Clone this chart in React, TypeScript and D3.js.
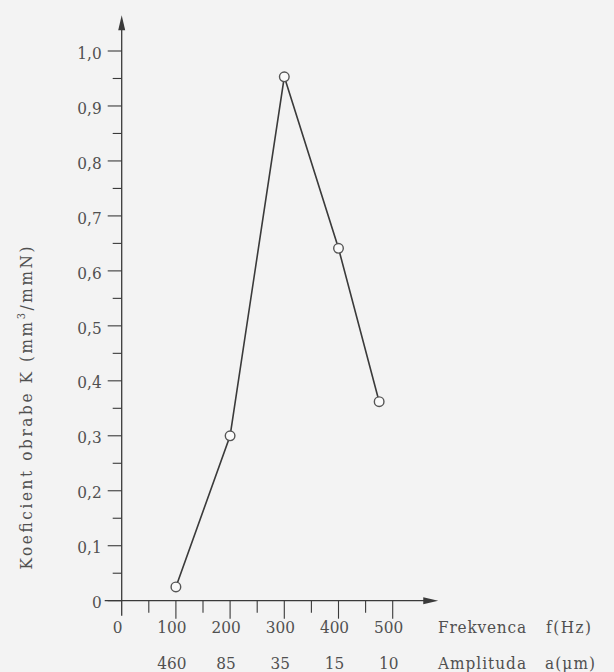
import React from "react";
import * as d3 from "d3";

const width = 614;
const height = 672;

// measured data
const frequency = [100, 200, 300, 400, 475]; // Hz
const coefK = [0.025, 0.3, 0.953, 0.641, 0.362]; // mm3/mmN

const xTickValues = [0, 100, 200, 300, 400, 500];
const amplitudeLabels = ["460", "85", "35", "15", "10"]; // under 100..500
const yTickValues = [0, 0.1, 0.2, 0.3, 0.4, 0.5, 0.6, 0.7, 0.8, 0.9, 1.0];

const ink = "#3a3a3a";
const textInk = "#505050";
const font = "DejaVu Serif Condensed, DejaVu Serif, serif";

const App = () => {
  const x = d3.scaleLinear().domain([0, 500]).range([121.7, 392.7]);
  const y = d3.scaleLinear().domain([0, 1]).range([600.7, 51]);

  const fmt = (v: number) => (v === 0 ? "0" : d3.format(".1f")(v).replace(".", ","));

  const xMinor = d3.range(50, 500, 100);
  const yMinor = d3.range(0.05, 1.0, 0.1);

  const line = d3
    .line<number>()
    .x((d, i) => x(frequency[i]))
    .y((d) => y(d));

  const x0 = x(0);
  const y0 = y(0);
  const xEnd = x(584);
  const yEnd = y(1.065);

  const label = { fontSize: 17, fill: textInk, fontFamily: font };

  return (
    <svg width={width} height={height} style={{ position: "absolute", left: 0, top: 0, background: "#f3f3f3" }}>
      <rect width={width} height={height} fill="#f3f3f3" />

      {/* axes */}
      <line x1={x0} x2={x0} y1={y0 + 15} y2={yEnd + 10} stroke={ink} strokeWidth={1.3} />
      <path d={`M${x0},${yEnd} L${x0 - 3.5},${yEnd + 15} L${x0 + 3.5},${yEnd + 15} Z`} fill={ink} />
      <line x1={x0 - 17} x2={xEnd - 10} y1={y0} y2={y0} stroke={ink} strokeWidth={1.3} />
      <path d={`M${xEnd},${y0} L${xEnd - 15},${y0 - 3.5} L${xEnd - 15},${y0 + 3.5} Z`} fill={ink} />

      {/* y ticks */}
      {yTickValues.map((v) => (
        <g key={v} transform={`translate(0,${y(v)})`}>
          <line x1={x0 - 14} x2={x0} stroke={ink} strokeWidth={1.1} />
          <text x={x0 - 20} dy="0.45em" textAnchor="end" {...label}>
            {fmt(v)}
          </text>
        </g>
      ))}
      {yMinor.map((v) => (
        <line key={v} x1={x0 - 9} x2={x0} y1={y(v)} y2={y(v)} stroke={ink} strokeWidth={1.1} />
      ))}

      {/* x ticks */}
      {xTickValues.map((v) => (
        <g key={v} transform={`translate(${x(v)},0)`}>
          {v > 0 && <line y1={y0} y2={y0 + 18} stroke={ink} strokeWidth={1.1} />}
          <text x={-4} y={y0 + 32} textAnchor="middle" {...label}>
            {v}
          </text>
        </g>
      ))}
      {xMinor.map((v) => (
        <line key={v} x1={x(v)} x2={x(v)} y1={y0} y2={y0 + 12} stroke={ink} strokeWidth={1.1} />
      ))}
      {amplitudeLabels.map((a, i) => (
        <text key={a} x={x(xTickValues[i + 1]) - 4} y={y0 + 68} textAnchor="middle" {...label}>
          {a}
        </text>
      ))}

      {/* axis captions */}
      <text x={438} y={y0 + 32} {...label} textLength={88} lengthAdjust="spacing">
        Frekvenca
      </text>
      <text x={546} y={y0 + 32} {...label} textLength={45} lengthAdjust="spacing">
        f(Hz)
      </text>
      <text x={438} y={y0 + 68} {...label} textLength={88} lengthAdjust="spacing">
        Amplituda
      </text>
      <text x={545} y={y0 + 68} {...label} textLength={50} lengthAdjust="spacing">
        a(μm)
      </text>

      <text
        transform="translate(32,408) rotate(-90)"
        textAnchor="middle"
        {...label}
        textLength={323}
        lengthAdjust="spacing"
      >
        Koeficient obrabe K (mm<tspan dy={-7} fontSize={11}>3</tspan>
        <tspan dy={7}>/mmN)</tspan>
      </text>

      {/* data */}
      <path d={line(coefK) ?? ""} fill="none" stroke={ink} strokeWidth={1.6} />
      {coefK.map((k, i) => (
        <circle key={i} cx={x(frequency[i])} cy={y(k)} r={4.8} fill="#fafafa" stroke="#555" strokeWidth={1.4} />
      ))}
    </svg>
  );
};

export default App;
